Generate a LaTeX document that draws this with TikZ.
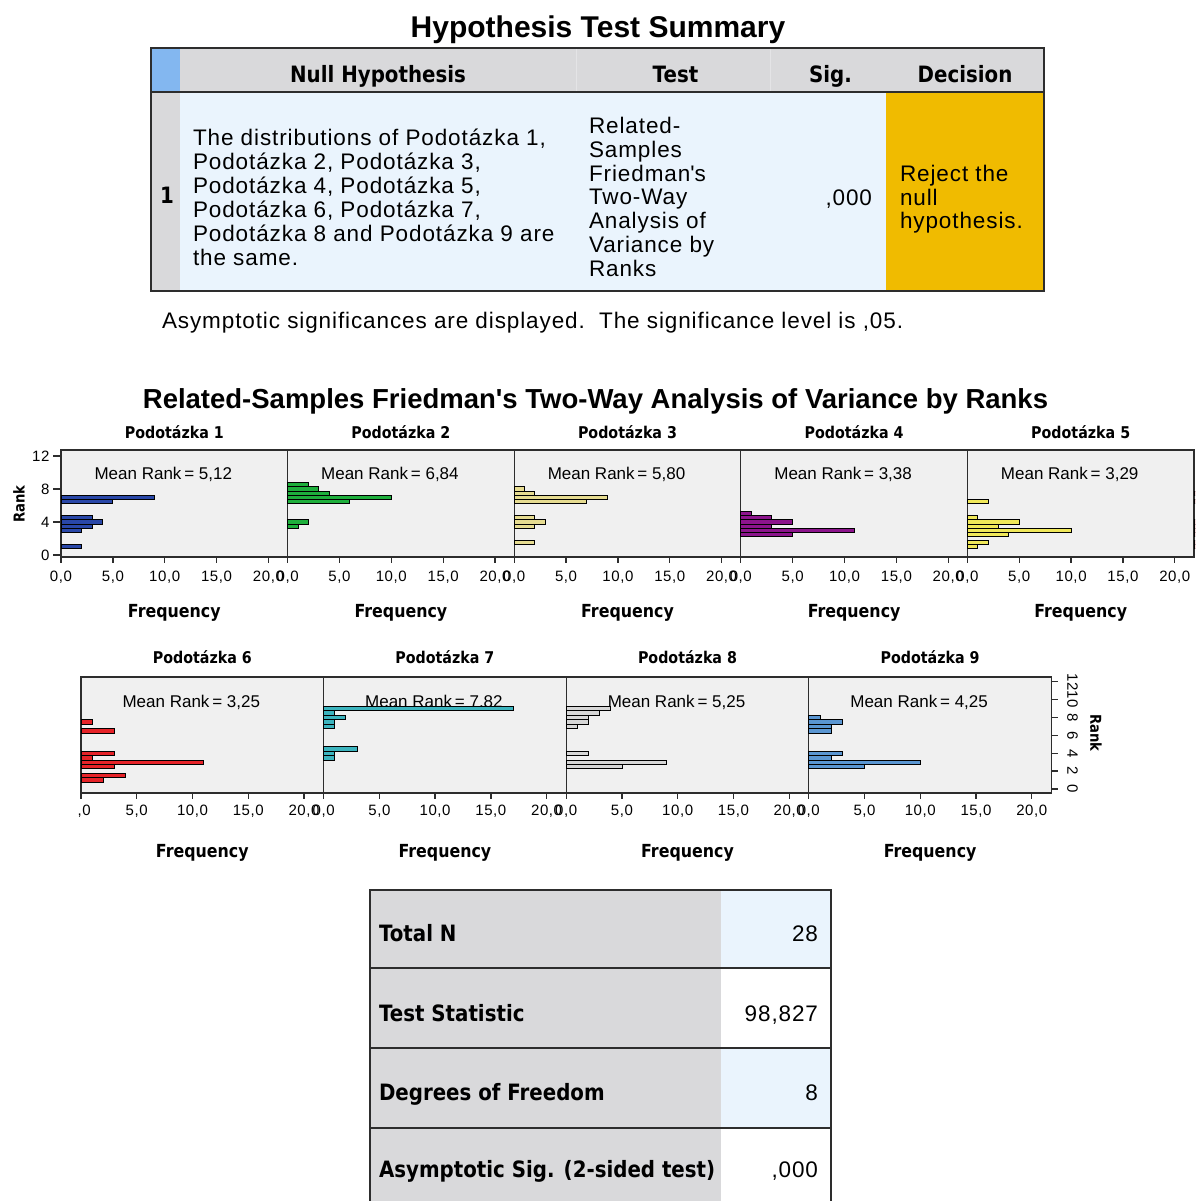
\documentclass[tikz,border=0pt]{standalone}
\usepackage{fontspec}
\setmainfont{Liberation Sans}
\newfontfamily\spaced[LetterSpace=4]{Liberation Sans}
\newfontfamily\heavy[FakeStretch=0.88]{DejaVu Sans}
\newcommand{\sz}[1]{\fontsize{#1}{#1}\selectfont}

\definecolor{hdr}{RGB}{217,217,219}
\definecolor{cornerblue}{RGB}{131,183,240}
\definecolor{bodyblue}{RGB}{234,244,253}
\definecolor{decision}{RGB}{240,187,0}
\definecolor{framec}{RGB}{45,45,45}
\definecolor{plotbg}{RGB}{240,240,240}
\definecolor{cblue}{RGB}{41,71,168}
\definecolor{cgreen}{RGB}{30,175,60}
\definecolor{ckhaki}{RGB}{230,220,145}
\definecolor{cpurple}{RGB}{140,20,140}
\definecolor{cyellow}{RGB}{240,232,90}
\definecolor{cred}{RGB}{230,35,40}
\definecolor{cteal}{RGB}{60,180,190}
\definecolor{cgray}{RGB}{215,215,215}
\definecolor{csteel}{RGB}{90,150,210}

% upper row of rank histograms: #1 index, #2 title, #3 mean rank, #4 colour, #5 rank/frequency list
\newcommand{\panelA}[5]{%
  \pgfmathsetmacro{\pxo}{61+226.6*#1}
  \path[plotbox] (\pxo,450) rectangle ({\pxo+226.6},557);
  \node[paneltitle, anchor=base] (tA#1) at ({\pxo+113.3},438) {#2};
  \node[meanlbl, anchor=base] (mA#1) at ({\pxo+102.3},479) {Mean Rank\,= #3};
  \node[axtitle, anchor=base] (fA#1) at ({\pxo+113.3},617) {Frequency};
  \foreach \f in {0,5,...,20} {
    \draw[axisline] ({\pxo+10.37*\f},557) -- ++(0,6);
    \node[ticklbl, anchor=base] (xA#1-\f) at ({\pxo+10.37*\f},581.7) {\f,0};
  }
  \foreach \r/\q in {#5}
    \path[hbar, fill=#4] (\pxo,{555-8.25*\r-2.06}) rectangle ++({10.37*\q},4.12);
}
% lower row of rank histograms
\newcommand{\panelB}[5]{%
  \pgfmathsetmacro{\pxo}{81+242.6*#1}
  \path[plotbox] (\pxo,677) rectangle ({\pxo+242.6},793);
  \node[paneltitle, anchor=base] (tB#1) at ({\pxo+121.3},663) {#2};
  \node[meanlbl, anchor=base] (mB#1) at ({\pxo+110.3},707) {Mean Rank\,= #3};
  \node[axtitle, anchor=base] (fB#1) at ({\pxo+121.3},857) {Frequency};
  \foreach \f in {0,5,...,20} {
    \draw[axisline] ({\pxo+11.15*\f},793) -- ++(0,6);
  }
  \foreach \f in {5,10,...,20} {
    \node[ticklbl, anchor=base] (xB#1-\f) at ({\pxo+11.15*\f},815) {\f,0};
  }
  \ifnum#1=0
    \node[ticklbl, anchor=base west] (xB#1-0) at ({\pxo-3.5},815) {,0};
  \else
    \node[ticklbl, anchor=base] (xB#1-0) at (\pxo,815) {0,0};
  \fi
  \foreach \r/\q in {#5}
    \path[hbar, fill=#4] (\pxo,{789-8.94*\r-2.235}) rectangle ++({11.15*\q},4.47);
}

\begin{document}
\begin{tikzpicture}[x=1pt,y=-1pt,
  txt/.style={inner sep=0pt, outer sep=0pt},
  tabtxt/.style={txt, font=\spaced\sz{22.5}},
  tabhd/.style={txt, font=\heavy\bfseries\sz{22.5}},
  paneltitle/.style={txt, font=\heavy\bfseries\sz{16.2}},
  axtitle/.style={txt, font=\heavy\bfseries\sz{18}},
  ranktitle/.style={txt, font=\heavy\bfseries\sz{15}},
  meanlbl/.style={txt, font=\sz{17}},
  ticklbl/.style={txt, font=\spaced\sz{15}},
  plotbox/.style={fill=plotbg, draw=framec, line width=1.3pt},
  axisline/.style={draw=framec, line width=1.3pt},
  hbar/.style={draw=black, line width=0.9pt},
  tabline/.style={draw=framec, line width=1.8pt},
]
\useasboundingbox (0,0) rectangle (1195,1201);

% ---------- Hypothesis test summary ----------
\node[txt, anchor=base, font=\bfseries\sz{30}] (title1) at (598,38) {Hypothesis Test Summary};

\fill[hdr] (151,48) rectangle (1044,92);
\fill[cornerblue] (151,48) rectangle (180,92);
\fill[hdr] (151,92) rectangle (180,291);
\fill[bodyblue] (180,92) rectangle (886,291);
\fill[decision] (886,92) rectangle (1044,291);
\draw[line width=0.8pt, white!30!hdr] (576,49) -- (576,91);
\draw[line width=0.8pt, white!30!hdr] (770,49) -- (770,91);
\draw[line width=2.6pt, framec] (151,92) -- (1044,92);
\draw[tabline] (151,48) rectangle (1044,291);

\node[tabhd, anchor=base] (hnull) at (378,83) {Null Hypothesis};
\node[tabhd, anchor=base] (htest) at (675.5,83) {Test};
\node[tabhd, anchor=base] (hsig) at (830.5,83) {Sig.};
\node[tabhd, anchor=base] (hdec) at (965,83) {Decision};
\node[tabhd, anchor=base] (rowone) at (167,204) {1};

\foreach \t [count=\i] in {{The distributions of Podotázka 1,},{Podotázka 2, Podotázka 3,},{Podotázka 4, Podotázka 5,},{Podotázka 6, Podotázka 7,},{Podotázka 8 and Podotázka 9 are},{the same.}}
  \node[tabtxt, anchor=base west] (nh\i) at (193,{145.5+23.9*(\i-1)}) {\t};

\foreach \t [count=\i] in {{Related-},{Samples},{Friedman\textquotesingle s},{Two-Way},{Analysis of},{Variance by},{Ranks}}
  \node[tabtxt, anchor=base west] (ts\i) at (589,{133.5+23.8*(\i-1)}) {\t};

\node[tabtxt, anchor=base east] (sigval) at (872,205) {,000};

\foreach \t [count=\i] in {{Reject the},{null},{hypothesis.}}
  \node[tabtxt, anchor=base west] (dc\i) at (900,{181.7+23.5*(\i-1)}) {\t};

\node[tabtxt, anchor=base west] (note) at (162,328) {Asymptotic significances are displayed.\ \ The significance level is ,05.};

% ---------- Friedman rank histograms ----------
\node[txt, anchor=base, font=\bfseries\sz{27.5}] (title2) at (595.5,408) {Related-Samples Friedman\textquotesingle s Two-Way Analysis of Variance by Ranks};

\panelA{0}{Podotázka 1}{5,12}{cblue}{7/9,6.5/5,4.5/3,4/4,3.5/3,3/2,1/2}
\panelA{1}{Podotázka 2}{6,84}{cgreen}{8.5/2,8/3,7.5/4,7/10,6.5/6,4/2,3.5/1}
\panelA{2}{Podotázka 3}{5,80}{ckhaki}{8/1,7.5/2,7/9,6.5/7,4.5/2,4/3,3.5/2,1.5/2}
\panelA{3}{Podotázka 4}{3,38}{cpurple}{5/1,4.5/3,4/5,3.5/3,3/11,2.5/5}
\panelA{4}{Podotázka 5}{3,29}{cyellow}{6.5/2,4.5/1,4/5,3.5/3,3/10,2.5/4,1.5/2,1/1}

% next panel just entering at the right edge
\begin{scope}
  \clip (0,0) rectangle (1195,1201);
  \foreach \r/\q in {7.5/1,6.5/3,4/3,3.5/1,3/11,2.5/3,1.5/4,1/2}
    \path[hbar, fill=cred] (1194,{555-8.25*\r-2.06}) rectangle ++({10.37*\q},4.12);
\end{scope}

\foreach \r in {0,4,8,12} {
  \draw[axisline] (53,{555-8.25*\r}) -- (61,{555-8.25*\r});
  \node[ticklbl, anchor=east] (yA\r) at (49.5,{555-8.25*\r}) {\r};
}
\node[ranktitle, rotate=90] (rankA) at (19,504) {Rank};

\panelB{0}{Podotázka 6}{3,25}{cred}{7.5/1,6.5/3,4/3,3.5/1,3/11,2.5/3,1.5/4,1/2}
\panelB{1}{Podotázka 7}{7,82}{cteal}{9/17,8.5/1,8/2,7.5/1,7/1,4.5/3,4/1,3.5/1}
\panelB{2}{Podotázka 8}{5,25}{cgray}{9/4,8.5/3,8/2,7.5/2,7/1,4/2,3/9,2.5/5}
\panelB{3}{Podotázka 9}{4,25}{csteel}{8/1,7.5/3,7/2,6.5/2,4/3,3.5/2,3/10,2.5/5}

\foreach \r in {0,2,...,12} {
  \draw[axisline] (1051.4,{789-8.94*\r}) -- (1058,{789-8.94*\r});
  \node[ticklbl, rotate=-90] (yB\r) at (1072.5,{789-8.94*\r}) {\r};
}
\node[ranktitle, rotate=-90] (rankB) at (1096,733) {Rank};

% ---------- Test statistics table ----------
\fill[hdr] (370,890) rectangle (720.7,1201);
\fill[bodyblue] (720.7,890) rectangle (831,968);
\fill[white] (720.7,968) rectangle (831,1048);
\fill[bodyblue] (720.7,1048) rectangle (831,1128);
\fill[white] (720.7,1128) rectangle (831,1201);
\draw[tabline] (370,1201) -- (370,890) -- (831,890) -- (831,1201);
\foreach \yy in {968,1048,1128}
  \draw[tabline] (370,\yy) -- (831,\yy);

\foreach \lab/\val/\yy [count=\i] in {Total N/28/941.7, Test Statistic/{98,827}/1021.7, Degrees of Freedom/8/1100, Asymptotic Sig. (2-sided test)/{,000}/1177.7} {
  \node[tabhd, anchor=base west] (sl\i) at (379,\yy) {\lab};
  \node[tabtxt, anchor=base east] (sv\i) at (818,\yy) {\val};
}
\end{tikzpicture}
\end{document}
